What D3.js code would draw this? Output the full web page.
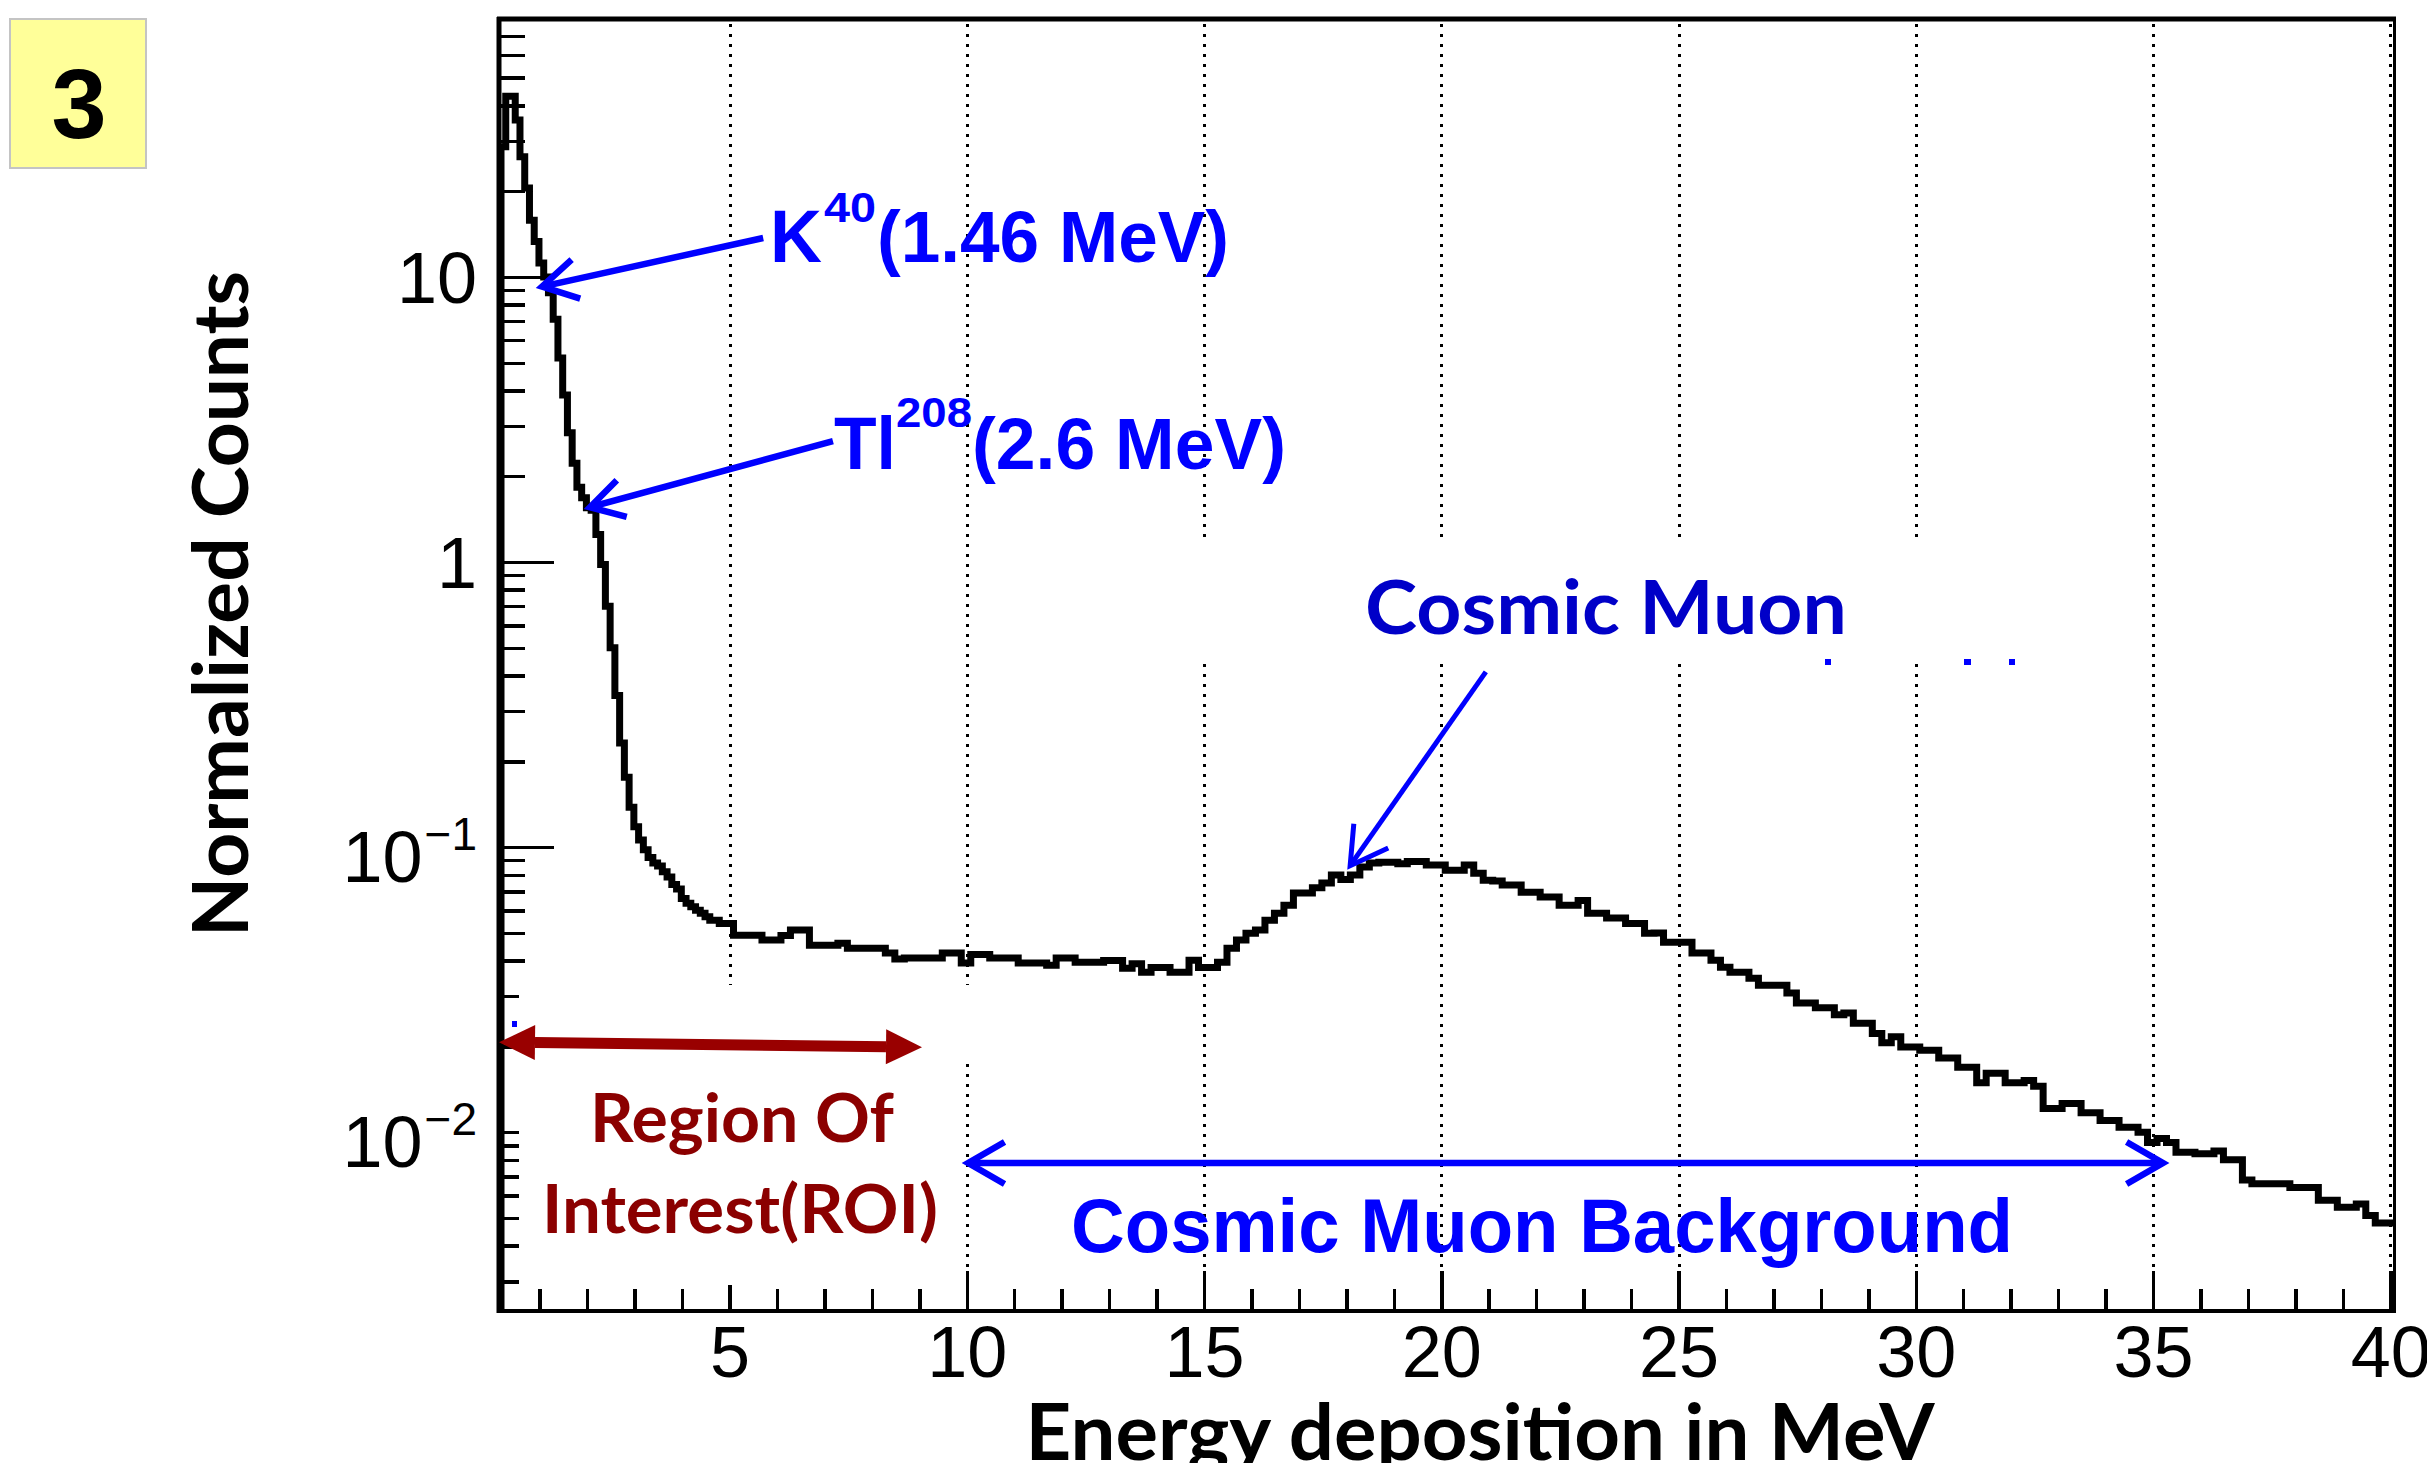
<!DOCTYPE html>
<html>
<head>
<meta charset="utf-8">
<script src="https://cdn.jsdelivr.net/npm/d3@7/dist/d3.min.js"></script>
<style>
  body { margin: 0; background: #fff; }
  svg { display: block; }
  .helv { font-family: "Liberation Sans", Arial, Helvetica, sans-serif; }
  .lato { font-family: Lato, "Open Sans", sans-serif; font-weight: bold; }
</style>
</head>
<body>
<svg id="chart" width="2427" height="1463"></svg>
<script>
// spectrum: normalized counts per bin
// fine bins (0.1 MeV) over the radioactive peaks
var lowStart = 0.1, lowWidth = 0.1;
var lowCounts = [
  28.6, 43, 43, 35.5, 26.4, 20.5, 15.8, 13.3, 11.2, 10.0,
  8.8, 7.1, 5.2, 3.85, 2.84, 2.22, 1.83, 1.68, 1.55, 1.52,
  1.25, 0.98, 0.70, 0.50, 0.34, 0.232, 0.176, 0.138, 0.118, 0.106,
  0.098, 0.092, 0.088, 0.0858, 0.082, 0.0785, 0.074, 0.0713, 0.066, 0.0636,
  0.0618, 0.060, 0.0586, 0.057, 0.0554, 0.0554, 0.054, 0.054, 0.054
];
// coarser bins (0.2 MeV) from 5 MeV on
var highStart = 5.0, highWidth = 0.2;
var highCounts = [
  0.0491, 0.0491, 0.0491, 0.0472, 0.0472, 0.049, 0.0512, 0.0512, 0.0453, 0.0453,
  0.0453, 0.046, 0.0442, 0.0442, 0.0442, 0.0442, 0.0425, 0.0405, 0.0408, 0.0408,
  0.0408, 0.0408, 0.0425, 0.0425, 0.0392, 0.042, 0.042, 0.0408, 0.0408, 0.0408,
  0.0392, 0.0392, 0.0392, 0.0385, 0.0408, 0.0408, 0.0395, 0.0395, 0.0395, 0.040,
  0.040, 0.0376, 0.039, 0.0364, 0.0378, 0.0378, 0.0364, 0.0364, 0.0401, 0.0378,
  0.0378, 0.0395, 0.0442, 0.0472, 0.0499, 0.0512, 0.0554, 0.0586, 0.0625, 0.069,
  0.069, 0.072, 0.0748, 0.0798, 0.077, 0.0798, 0.0851, 0.0879, 0.0885, 0.0885,
  0.0875, 0.089, 0.089, 0.0866, 0.0866, 0.083, 0.083, 0.0866, 0.081, 0.0766,
  0.076, 0.0737, 0.0737, 0.0695, 0.0695, 0.0668, 0.0668, 0.0625, 0.0625, 0.065,
  0.0586, 0.0586, 0.0564, 0.0564, 0.054, 0.054, 0.0499, 0.050, 0.0464, 0.0464,
  0.0464, 0.0425, 0.0425, 0.0401, 0.0379, 0.0364, 0.0364, 0.0347, 0.0328, 0.0328,
  0.0328, 0.0308, 0.0284, 0.0284, 0.0273, 0.0273, 0.0258, 0.0262, 0.0241, 0.0241,
  0.0222, 0.0206, 0.0216, 0.0199, 0.0199, 0.0194, 0.0194, 0.0182, 0.0182, 0.0169,
  0.0169, 0.0149, 0.0161, 0.0161, 0.0149, 0.0149, 0.0152, 0.0145, 0.0121, 0.0121,
  0.0126, 0.0126, 0.0117, 0.0117, 0.011, 0.011, 0.0104, 0.0104, 0.010, 0.0092,
  0.0095, 0.0092, 0.0085, 0.0085, 0.0084, 0.0084, 0.0086, 0.008, 0.008, 0.0068,
  0.0066, 0.0066, 0.0066, 0.0066, 0.0064, 0.0064, 0.0064, 0.00577, 0.00577, 0.00546,
  0.00546, 0.0056, 0.0051, 0.0048, 0.0048
];
var xEnd = 40;

var xMajor = [5, 10, 15, 20, 25, 30, 35, 40];
var yMajor = [0.01, 0.1, 1, 10];
var yLabels = [
  {v: 10, base: '10', sup: ''},
  {v: 1, base: '1', sup: ''},
  {v: 0.1, base: '10', sup: '\u22121'},
  {v: 0.01, base: '10', sup: '\u22122'}
];

var svg = d3.select('#chart');
var x = d3.scaleLinear().domain([0.1, 40.1]).range([497, 2395]);
var y = d3.scaleLog().domain([0.00236, 80.3]).range([1311, 19]);

var xMinor = d3.range(1, 40).filter(function(d) { return d % 5 !== 0; });
var yMinor = [];
[-3, -2, -1, 0, 1].forEach(function(k) {
  for (var m = 2; m <= 9; m++) {
    var v = m * Math.pow(10, k);
    if (v > y.domain()[0] && v < 79) yMinor.push(v);
  }
});

// yellow panel number
svg.append('rect')
  .attr('x', 10).attr('y', 19).attr('width', 136).attr('height', 149)
  .attr('fill', '#ffff99').attr('stroke', '#c4c4c4').attr('stroke-width', 2);
svg.append('text').attr('class', 'helv')
  .attr('x', 79).attr('y', 138).attr('text-anchor', 'middle')
  .attr('font-size', 99).attr('font-weight', 'bold').text('3');

// dotted grid
svg.append('g').attr('shape-rendering', 'crispEdges')
  .selectAll('line').data(xMajor).enter().append('line')
  .attr('x1', function(d) { return Math.round(x(d)) + 0.5; })
  .attr('x2', function(d) { return Math.round(x(d)) + 0.5; })
  .attr('y1', 24).attr('y2', 1310)
  .attr('stroke', '#000').attr('stroke-width', 3).attr('stroke-dasharray', '3 7');

// axes (ticks point inward)
function styleAxis(g) {
  g.select('.domain').remove();
  g.attr('shape-rendering', 'crispEdges');
  g.selectAll('.tick line').attr('stroke', '#000').attr('stroke-width', 3.5);
  g.selectAll('.tick text').attr('class', 'helv').attr('font-size', 72).attr('fill', '#000');
}
svg.append('g').attr('transform', 'translate(0,1311)')
  .call(d3.axisBottom(x).tickValues(xMinor).tickSize(-22).tickFormat(''))
  .call(styleAxis);
svg.append('g').attr('transform', 'translate(0,1311)')
  .call(d3.axisBottom(x).tickValues(xMajor).tickSize(-40).tickPadding(15).tickFormat(d3.format('d')))
  .call(styleAxis);
svg.append('g').attr('transform', 'translate(498.5,0)')
  .call(d3.axisRight(y).tickValues(yMinor).tickSize(26).tickFormat(''))
  .call(styleAxis);
svg.append('g').attr('transform', 'translate(498.5,0)')
  .call(d3.axisRight(y).tickValues(yMajor).tickSize(55).tickFormat(''))
  .call(styleAxis);

// y tick labels with exponents
var yl = svg.append('g').attr('class', 'helv').attr('fill', '#000');
yLabels.forEach(function(d) {
  var yy = y(d.v);
  if (!d.sup) {
    yl.append('text').attr('x', 477).attr('y', yy + 26)
      .attr('text-anchor', 'end').attr('font-size', 72).text(d.base);
  } else {
    var s = yl.append('text').attr('x', 477).attr('y', yy + 3)
      .attr('text-anchor', 'end').attr('font-size', 46).text(d.sup);
    var w = s.node().getComputedTextLength();
    yl.append('text').attr('x', 477 - w - 2).attr('y', yy + 35)
      .attr('text-anchor', 'end').attr('font-size', 72).text(d.base);
  }
});

// white label backgrounds that break the grid
var boxes = [
  [1150, 538, 810, 123],
  [519, 985, 466, 72],
  [519, 1057, 436, 228]
];
svg.append('g').selectAll('rect').data(boxes).enter().append('rect')
  .attr('x', function(d) { return d[0]; }).attr('y', function(d) { return d[1]; })
  .attr('width', function(d) { return d[2]; }).attr('height', function(d) { return d[3]; })
  .attr('fill', '#fff');

// frame
svg.append('rect').attr('shape-rendering', 'crispEdges')
  .attr('x', 498.5).attr('y', 19.5).attr('width', 1896).attr('height', 1291.5)
  .attr('fill', 'none').attr('stroke', '#000').attr('stroke-width', 3.5);
svg.append('line').attr('x1', 497).attr('x2', 2396).attr('y1', 19).attr('y2', 19)
  .attr('stroke', '#000').attr('stroke-width', 5);
svg.append('line').attr('x1', 499).attr('x2', 499).attr('y1', 17).attr('y2', 1313)
  .attr('stroke', '#000').attr('stroke-width', 5);

// histogram
var bins = [];
lowCounts.forEach(function(c, i) { bins.push({e: lowStart + i * lowWidth, v: c}); });
highCounts.forEach(function(c, i) { bins.push({e: highStart + i * highWidth, v: c}); });
var pts = [{e: bins[0].e, v: y.domain()[0]}]
  .concat(bins)
  .concat([{e: xEnd, v: highCounts[highCounts.length - 1]}]);
var hist = d3.line()
  .x(function(d) { return x(d.e) + 4; })
  .y(function(d) { return y(d.v); })
  .curve(d3.curveStepAfter);
svg.append('path').datum(pts)
  .attr('d', hist).attr('fill', 'none')
  .attr('stroke', '#000').attr('stroke-width', 7).attr('stroke-linejoin', 'miter');

// annotations
function px(p) { return [x(p[0]), y(p[1])]; }
function head(tip, tail, len, ang) {
  var a = Math.atan2(tail[1] - tip[1], tail[0] - tip[0]);
  return [
    [tip[0] + len * Math.cos(a + ang), tip[1] + len * Math.sin(a + ang)],
    tip,
    [tip[0] + len * Math.cos(a - ang), tip[1] + len * Math.sin(a - ang)]
  ];
}
var ann = svg.append('g');
function openArrow(from, to, color, width, len, bothEnds) {
  var a = px(from), b = px(to);
  ann.append('line').attr('x1', a[0]).attr('y1', a[1]).attr('x2', b[0]).attr('y2', b[1])
    .attr('stroke', color).attr('stroke-width', width);
  var heads = [head(b, a, len, Math.PI / 6)];
  if (bothEnds) heads.push(head(a, b, len, Math.PI / 6));
  heads.forEach(function(h) {
    ann.append('path').attr('d', d3.line()(h)).attr('fill', 'none')
      .attr('stroke', color).attr('stroke-width', width).attr('stroke-linejoin', 'miter');
  });
}
openArrow([5.71, 13.7], [1.05, 9.25], '#0000ff', 6.5, 40);
openArrow([7.18, 2.653], [2.06, 1.557], '#0000ff', 6.5, 38);
openArrow([20.94, 0.412], [18.08, 0.0861], '#0000ff', 5, 42);
openArrow([10.03, 0.0078], [35.21, 0.0078], '#0000ff', 6.5, 42, true);

// ROI double arrow with filled heads
(function() {
  var a = px([0.142, 0.0207]), b = px([9.057, 0.01987]);
  var L = 36, H = 17.5;
  var ang = Math.atan2(b[1] - a[1], b[0] - a[0]);
  var ux = Math.cos(ang), uy = Math.sin(ang);
  ann.append('line')
    .attr('x1', a[0] + ux * L).attr('y1', a[1] + uy * L)
    .attr('x2', b[0] - ux * L).attr('y2', b[1] - uy * L)
    .attr('stroke', '#990000').attr('stroke-width', 11);
  [[b, -1], [a, 1]].forEach(function(t) {
    var tip = t[0], s = t[1];
    var bx = tip[0] + s * ux * L, by = tip[1] + s * uy * L;
    ann.append('path')
      .attr('d', d3.line()([tip, [bx - uy * H, by + ux * H], [bx + uy * H, by - ux * H]]) + 'Z')
      .attr('fill', '#990000');
  });
})();

// small leftover marks of clipped labels
[[1825, 659, 6, 6], [1964, 659, 7, 6], [2009, 659, 6, 6], [512, 1021, 5, 6]].forEach(function(r) {
  ann.append('rect').attr('x', r[0]).attr('y', r[1]).attr('width', r[2]).attr('height', r[3])
    .attr('fill', '#0000ff');
});

// label helper
function label(txt, cls, xx, yy, size, color, len, anchor, weight) {
  var t = svg.append('text').attr('class', cls)
    .attr('x', xx).attr('y', yy).attr('font-size', size).attr('fill', color)
    .attr('text-anchor', anchor || 'start').text(txt);
  if (weight) t.attr('font-weight', weight);
  if (len) t.attr('textLength', len).attr('lengthAdjust', 'spacingAndGlyphs');
  return t;
}
var blue = '#0000ff';
label('K', 'helv', 770, 262, 74, blue, 52, 'start', 'bold');
label('40', 'helv', 824, 222, 42, blue, 52, 'start', 'bold');
label('(1.46 MeV)', 'helv', 877, 262, 72, blue, 352, 'start', 'bold');
label('Tl', 'helv', 834, 469, 74, blue, 62, 'start', 'bold');
label('208', 'helv', 896, 427, 42, blue, 76, 'start', 'bold');
label('(2.6 MeV)', 'helv', 972, 469, 72, blue, 314, 'start', 'bold');
label('Cosmic Muon', 'lato', 1365, 634, 75, '#0000c8', 482);
label('Cosmic Muon Background', 'helv', 1071, 1252, 76, blue, 942, 'start', 'bold');
label('Region Of', 'lato', 742, 1142, 66, '#8b0000', 304, 'middle');
label('Interest(ROI)', 'lato', 740, 1233, 66, '#8b0000', 396, 'middle');

// axis titles
label('Energy deposition in MeV', 'lato', 1480, 1460, 78, '#000', 909, 'middle');
svg.append('text').attr('class', 'lato')
  .attr('transform', 'translate(248,604) rotate(-90)')
  .attr('text-anchor', 'middle').attr('font-size', 77)
  .attr('textLength', 666).attr('lengthAdjust', 'spacingAndGlyphs')
  .text('Normalized Counts');
</script>
</body>
</html>
